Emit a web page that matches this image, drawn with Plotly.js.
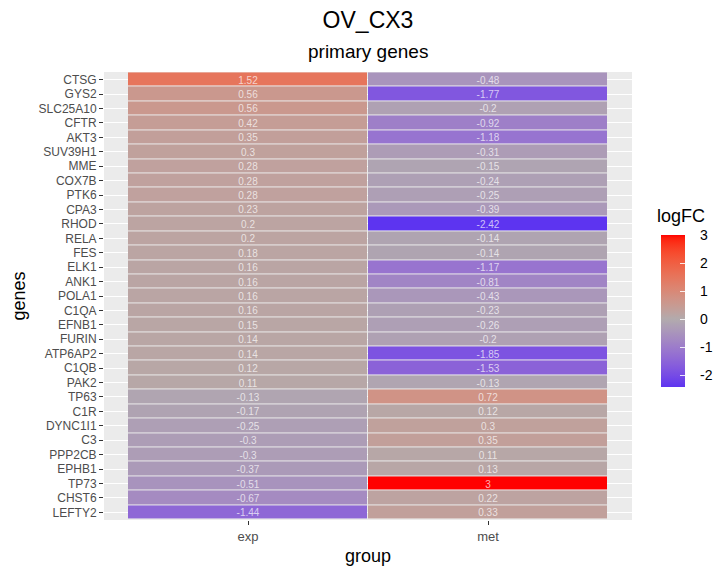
<!DOCTYPE html>
<html>
<head>
<meta charset="utf-8">
<script src="https://cdn.plot.ly/plotly-3.0.1.min.js"></script>
<style>html,body{margin:0;padding:0;background:#fff;}#chart{width:717px;height:572px;}</style>
</head>
<body>
<div id="chart"></div>
<script>
// ---- data ----
const genes = ["CTSG","GYS2","SLC25A10","CFTR","AKT3","SUV39H1","MME","COX7B","PTK6","CPA3",
  "RHOD","RELA","FES","ELK1","ANK1","POLA1","C1QA","EFNB1","FURIN","ATP6AP2",
  "C1QB","PAK2","TP63","C1R","DYNC1I1","C3","PPP2CB","EPHB1","TP73","CHST6","LEFTY2"];
const groups = ["exp","met"];
const expFC = [1.52,0.56,0.56,0.42,0.35,0.3,0.28,0.28,0.28,0.23,
  0.2,0.2,0.18,0.16,0.16,0.16,0.16,0.15,0.14,0.14,
  0.12,0.11,-0.13,-0.17,-0.25,-0.3,-0.3,-0.37,-0.51,-0.67,-1.44];
const metFC = [-0.48,-1.77,-0.2,-0.92,-1.18,-0.31,-0.15,-0.24,-0.25,-0.39,
  -2.42,-0.14,-0.14,-1.17,-0.81,-0.43,-0.23,-0.26,-0.2,-1.85,
  -1.53,-0.13,0.72,0.12,0.3,0.35,0.11,0.13,3,0.22,0.33];
const legendTicks = [-2,-1,0,1,2,3];

// ---- colour helpers (Lab interpolation like ggplot2 scale_fill_gradient2) ----
function hex2rgb(h){return [parseInt(h.substr(1,2),16),parseInt(h.substr(3,2),16),parseInt(h.substr(5,2),16)];}
function lin(c){c/=255;return c<=0.04045?c/12.92:Math.pow((c+0.055)/1.055,2.4);}
function gam(c){c=c<=0.0031308?12.92*c:1.055*Math.pow(c,1/2.4)-0.055;return Math.max(0,Math.min(255,Math.round(c*255)));}
const Xn=0.95047,Yn=1,Zn=1.08883;
function f(t){return t>0.008856?Math.cbrt(t):7.787*t+16/116;}
function finv(t){const t3=t*t*t;return t3>0.008856?t3:(t-16/116)/7.787;}
function rgb2lab(rgb){const R=lin(rgb[0]),G=lin(rgb[1]),B=lin(rgb[2]);
  const X=0.4124564*R+0.3575761*G+0.1804375*B,Y=0.2126729*R+0.7151522*G+0.0721750*B,Z=0.0193339*R+0.1191920*G+0.9503041*B;
  const fx=f(X/Xn),fy=f(Y/Yn),fz=f(Z/Zn);return [116*fy-16,500*(fx-fy),200*(fy-fz)];}
function lab2rgb(l){const fy=(l[0]+16)/116,fx=fy+l[1]/500,fz=fy-l[2]/200;
  const X=finv(fx)*Xn,Y=finv(fy)*Yn,Z=finv(fz)*Zn;
  const R=3.2404542*X-1.5371385*Y-0.4985314*Z,G=-0.9692660*X+1.8760108*Y+0.0415560*Z,B=0.0556434*X-0.2040259*Y+1.0572252*Z;
  return 'rgb('+gam(R)+','+gam(G)+','+gam(B)+')';}
const lowLab=rgb2lab(hex2rgb('#0000FF')), midLab=rgb2lab(hex2rgb('#B2ABAD')), highLab=rgb2lab(hex2rgb('#FF0000'));
function mix(a,b,t){return [a[0]+(b[0]-a[0])*t,a[1]+(b[1]-a[1])*t,a[2]+(b[2]-a[2])*t];}

const allVals = expFC.concat(metFC);
const zmin = Math.min.apply(null, allVals), zmax = Math.max.apply(null, allVals);
const maxAbs = Math.max(Math.abs(zmin), Math.abs(zmax));
const colorscale = [];
const N = 60;
for (let i=0;i<=N;i++){
  const p=i/N, v=zmin+p*(zmax-zmin), t=0.5+v/(2*maxAbs);
  const lab = t<0.5 ? mix(lowLab,midLab,t/0.5) : mix(midLab,highLab,(t-0.5)/0.5);
  colorscale.push([p, lab2rgb(lab)]);
}

const z = genes.map((g,i)=>[expFC[i], metFC[i]]);
const txt = genes.map((g,i)=>[String(expFC[i]), String(metFC[i])]);

const fontFam = 'Liberation Sans, Arial, sans-serif';
const trace = {
  type:'heatmap', x:groups, y:genes, z:z, text:txt,
  texttemplate:'%{text}',
  textfont:{family:fontFam, size:10, color:'rgba(255,255,255,0.7)'},
  colorscale:colorscale, zmin:zmin, zmax:zmax,
  xgap:1, ygap:1, hoverinfo:'skip',
  colorbar:{
    tickvals:legendTicks, ticktext:legendTicks.map(v=>'\u00a0\u00a0\u00a0'+v),
    ticks:'inside', ticklen:5, tickcolor:'rgba(255,255,255,0.85)', tickwidth:1,
    tickfont:{family:fontFam, size:14, color:'#000'},
    outlinewidth:0, thickness:24, thicknessmode:'pixels',
    len:152, lenmode:'pixels',
    x:(661-104)/528, xanchor:'left', xpad:0,
    y:(520-387)/448, yanchor:'bottom', ypad:0
  }
};

const layout = {
  width:717, height:572,
  margin:{l:104, r:85, t:72, b:52, autoexpand:false},
  paper_bgcolor:'#fff', plot_bgcolor:'#EBEBEB',
  font:{family:fontFam, color:'#000'},
  title:{text:'OV_CX3', font:{size:23, color:'#000'}, x:368/717, xanchor:'center', y:1-20/572, yanchor:'middle', xref:'container', yref:'container'},
  annotations:[
    {text:'primary genes', xref:'paper', yref:'paper', x:0.5, y:1+(72-52)/448, xanchor:'center', yanchor:'middle', showarrow:false, font:{size:19, color:'#000'}},
    {text:'logFC', xref:'paper', yref:'paper', x:(655-104)/528, y:(520-216)/448, xanchor:'left', yanchor:'middle', showarrow:false, font:{size:18, color:'#000'}}
  ],
  xaxis:{
    type:'category', range:[-0.6,1.6], showgrid:false, zeroline:false,
    ticks:'outside', ticklen:4, tickcolor:'#333', tickwidth:1,
    tickfont:{size:13, color:'#4D4D4D'},
    title:{text:'group', font:{size:18, color:'#000'}, standoff:6},
    fixedrange:true
  },
  yaxis:{
    type:'category', range:[genes.length-0.47, -0.53], showgrid:true, gridcolor:'#FFFFFF', gridwidth:1,
    zeroline:false, ticks:'outside', ticklen:4, tickcolor:'#333', tickwidth:1,
    tickfont:{size:12, color:'#4D4D4D'},
    title:{text:'genes', font:{size:18, color:'#000'}, standoff:8},
    fixedrange:true
  }
};

Plotly.newPlot('chart',[trace],layout,{displayModeBar:false, staticPlot:true});
</script>
</body>
</html>
